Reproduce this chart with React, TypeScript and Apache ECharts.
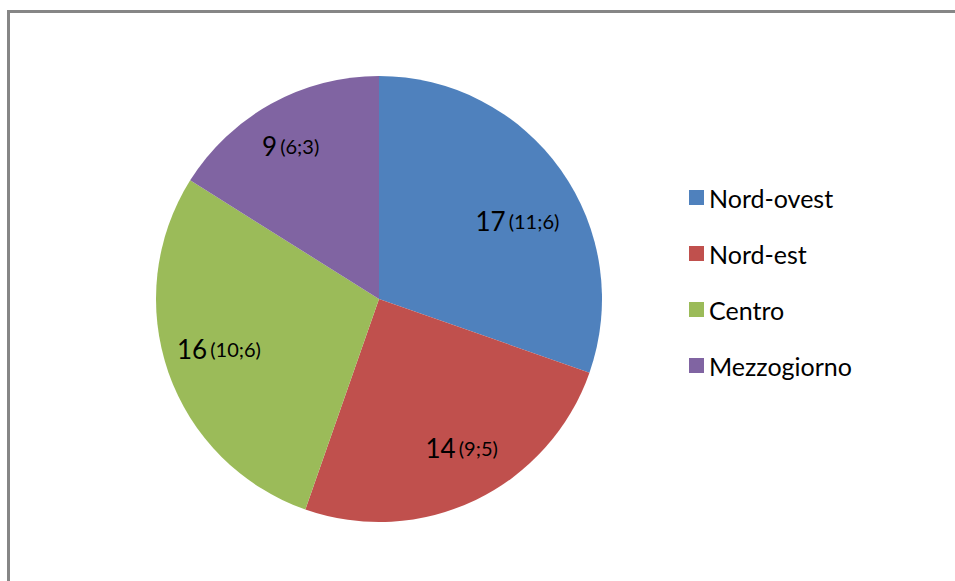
import React, { useEffect, useRef } from "react";
import * as echarts from "echarts";

const categories = ["Nord-ovest", "Nord-est", "Centro", "Mezzogiorno"];
const values = [17, 14, 16, 9];
const subLabels = ["(11;6)", "(9;5)", "(10;6)", "(6;3)"];
const colors = ["#4F81BD", "#C0504D", "#9BBB59", "#8064A2"];
const labelOffsets = [
  [45, -12],
  [33, 46],
  [-52, 12],
  [-33, -53],
];

export default function App() {
  const ref = useRef<HTMLDivElement>(null);
  useEffect(() => {
    if (!ref.current) return;
    const chart = echarts.init(ref.current, null, { renderer: "svg" });
    const font = "Lato, 'Open Sans', sans-serif";
    chart.setOption({
      animation: false,
      backgroundColor: "#ffffff",
      color: colors,
      legend: {
        orient: "vertical",
        left: 684,
        top: 180,
        itemWidth: 15,
        itemHeight: 15,
        itemGap: 31,
        icon: "rect",
        data: categories,
        textStyle: {
          fontFamily: font,
          fontSize: 25,
          color: "#000",
          lineHeight: 24,
          padding: [0, 0, 0, 0],
        },
      },
      graphic: [
        {
          type: "rect",
          shape: { x: 8.5, y: 11.5, width: 1000, height: 1000 },
          style: { fill: "none", stroke: "#868686", lineWidth: 3 },
          silent: true,
          z: 10,
        },
      ],
      series: [
        {
          type: "pie",
          center: [379, 299],
          radius: 223,
          startAngle: 90,
          clockwise: true,
          avoidLabelOverlap: false,
          labelLine: { show: false },
          data: categories.map((c, i) => ({
            name: c,
            value: values[i],
            label: { offset: labelOffsets[i] },
          })),
          label: {
            show: true,
            position: "inside",
            fontFamily: font,
            color: "#000",
            formatter: (p: any) => `{big|${p.value}} {small|${subLabels[p.dataIndex]}}`,
            rich: {
              big: { fontSize: 26, fontFamily: font, color: "#000" },
              small: { fontSize: 20, fontFamily: font, color: "#000" },
            },
          },
          emphasis: { disabled: true },
          itemStyle: { borderWidth: 0 },
        },
      ],
    });
    return () => chart.dispose();
  }, []);
  return (
    <div
      ref={ref}
      style={{ position: "fixed", left: 0, top: 0, width: 955, height: 581 }}
    />
  );
}
